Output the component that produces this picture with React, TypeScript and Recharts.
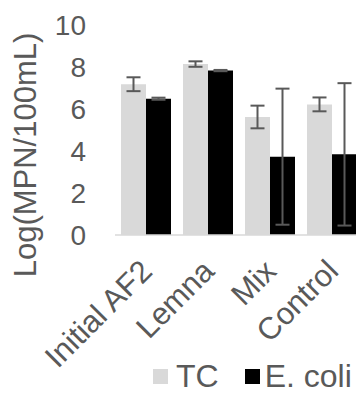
import React from 'react';
import { BarChart, Bar, XAxis, YAxis, Legend, ErrorBar } from 'recharts';

const categories = ['Initial AF2', 'Lemna', 'Mix', 'Control'];
const tcValues = [7.18, 8.14, 5.62, 6.22];
const tcErrors = [0.33, 0.13, 0.54, 0.33];
const ecoliValues = [6.49, 7.83, 3.73, 3.84];
const ecoliErrors = [0.05, 0.03, 3.24, 3.39];
const yTicks = [0, 2, 4, 6, 8, 10];

const data = categories.map((name, i) => ({
  name,
  tc: tcValues[i],
  tcErr: tcErrors[i],
  ecoli: ecoliValues[i],
  ecoliErr: ecoliErrors[i],
}));

const FONT = '"Liberation Sans", Arial, sans-serif';
const TEXT = '#595959';

const XTick = (props: any) => {
  const { x, y, payload } = props;
  return (
    <g transform={`translate(${x + 8},${y + 38})`}>
      <text textAnchor="end" transform="rotate(-45)" fill={TEXT} fontSize={31} fontFamily={FONT}>
        {payload.value}
      </text>
    </g>
  );
};

const YLabel = (props: any) => {
  const { viewBox } = props;
  const cx = viewBox.x + 25;
  const cy = viewBox.y + viewBox.height / 2 + 25;
  return (
    <text
      x={cx}
      y={cy}
      transform={`rotate(-90, ${cx}, ${cy})`}
      textAnchor="middle"
      dominantBaseline="central"
      fill={TEXT}
      fontSize={31}
      fontFamily={FONT}
    >
      Log(MPN/100mL)
    </text>
  );
};

const LegendContent = () => (
  <div
    style={{
      display: 'flex',
      alignItems: 'center',
      height: 30,
      paddingTop: 7,
      paddingBottom: 3,
      paddingLeft: 153,
      fontFamily: FONT,
      fontSize: 32,
      lineHeight: '28px',
      color: TEXT,
      whiteSpace: 'nowrap',
    }}
  >
    <span style={{ width: 15, height: 15, background: '#d9d9d9', display: 'inline-block', marginRight: 8 }} />
    <span style={{ marginRight: 26 }}>TC</span>
    <span style={{ width: 15, height: 15, background: '#000000', display: 'inline-block', marginRight: 5 }} />
    <span>E. coli</span>
  </div>
);

const App = () => {
  return (
    <div style={{ position: 'absolute', left: 0, top: 0, width: 356, height: 394, overflow: 'hidden', background: '#fff' }}>
      <BarChart
        width={380}
        height={394}
        data={data}
        margin={{ top: 25, right: 17, left: 0, bottom: 0 }}
        barCategoryGap={6}
        barGap={0}
      >
        <XAxis
          dataKey="name"
          axisLine={{ stroke: '#d9d9d9', strokeWidth: 1.5 }}
          tickLine={false}
          tickSize={0}
          tickMargin={0}
          height={119}
          interval={0}
          tick={<XTick />}
        />
        <YAxis
          width={115}
          domain={[0, 10]}
          ticks={yTicks}
          axisLine={false}
          tickLine={false}
          tickSize={0}
          tickMargin={29}
          tick={{ fill: TEXT, fontSize: 28, fontFamily: FONT }}
          label={<YLabel />}
        />
        <Legend verticalAlign="bottom" content={<LegendContent />} wrapperStyle={{ left: 0, width: 380 }} />
        <Bar dataKey="tc" name="TC" fill="#d9d9d9" isAnimationActive={false}>
          <ErrorBar dataKey="tcErr" width={7} stroke="#595959" strokeWidth={2} direction="y" />
        </Bar>
        <Bar dataKey="ecoli" name="E. coli" fill="#000000" isAnimationActive={false}>
          <ErrorBar dataKey="ecoliErr" width={7} stroke="#595959" strokeWidth={2} direction="y" />
        </Bar>
      </BarChart>
    </div>
  );
};

export default App;
